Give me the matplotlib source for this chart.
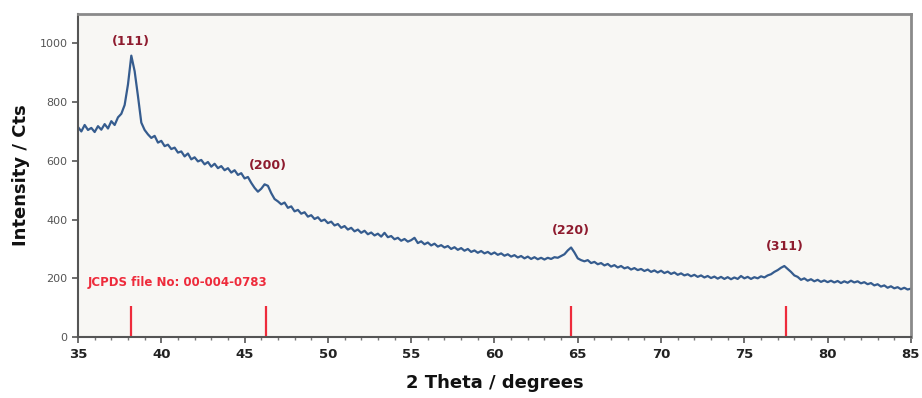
import numpy as np
import matplotlib
matplotlib.use("Agg")
import matplotlib.pyplot as plt
from matplotlib.ticker import MultipleLocator

# ---- data ----
two_theta_start, two_theta_step = 35.0, 0.2
intensity = [
    715, 700, 722, 705, 712, 698, 718, 706, 725, 710, 735, 722, 748, 760, 790, 860, 958, 905, 820, 730, 705, 690, 678, 685, 662,
    668, 650, 655, 640, 645, 628, 632, 615, 625, 605, 612, 598, 603, 588, 596, 580, 590, 575, 582, 568, 575, 560, 568, 552, 558,
    540, 545, 525, 508, 495, 505, 520, 515, 490, 470, 462, 452, 458, 440, 445, 428, 433, 420, 425, 410, 415, 402, 408, 395, 400,
    388, 393, 380, 385, 372, 378, 366, 372, 360, 366, 355, 362, 350, 356, 346, 352, 342, 355, 340, 344, 333, 338, 328, 334, 325,
    330, 338, 320, 326, 316, 322, 312, 318, 308, 313, 305, 310, 300, 306, 297, 303, 294, 300, 290, 295, 287, 293, 285, 290, 282,
    288, 280, 285, 277, 282, 274, 279, 271, 276, 268, 274, 266, 272, 265, 270, 264, 270, 266, 272, 270, 276, 282, 295, 305, 288,
    268, 262, 258, 262, 252, 256, 248, 252, 244, 249, 240, 245, 237, 242, 234, 238, 230, 235, 228, 232, 225, 230, 222, 227, 220,
    226, 218, 223, 215, 220, 212, 217, 210, 214, 207, 212, 205, 210, 203, 208, 201, 206, 199, 205, 198, 204, 197, 203, 198, 208,
    200, 205, 198, 204, 200, 207, 203, 210, 214, 222, 228, 236, 242, 232, 222, 210, 205, 195, 200, 192, 197, 190, 195, 188, 193,
    187, 192, 186, 191, 184, 190, 185, 192, 186, 190, 183, 187, 180, 184, 176, 180, 172, 176, 168, 173, 166, 170, 163, 168, 162, 165,
]
two_theta = two_theta_start + two_theta_step * np.arange(len(intensity))

ref_positions = [38.2, 46.3, 64.6, 77.5]
ref_height = 105
peak_labels = ["(111)", "(200)", "(220)", "(311)"]
peak_label_x = [38.2, 46.4, 64.6, 77.4]
peak_label_y = [1005, 585, 362, 308]
jcpds_text = "JCPDS file No: 00-004-0783"

# ---- figure ----
fig = plt.figure(figsize=(9.22, 3.98), dpi=100)
ax = fig.add_axes([0.0846, 0.153, 0.9034, 0.812])
ax.set_facecolor("#F8F7F4")

ax.plot(two_theta, intensity, color="#2B5489", lw=1.6, alpha=0.95)

ax.vlines(ref_positions, 0, ref_height, color="#EE2B3B", lw=1.6)

for lab, lx, ly in zip(peak_labels, peak_label_x, peak_label_y):
    ax.text(lx, ly, lab, color="#8E1B2E", fontsize=9, fontweight="bold",
            ha="center", va="center")

ax.text(35.6, 185, jcpds_text, color="#EE2B3B", fontsize=8.5,
        fontweight="bold", ha="left", va="center")

ax.set_xlim(35, 85)
ax.set_ylim(0, 1100)
ax.xaxis.set_major_locator(MultipleLocator(5))
ax.xaxis.set_minor_locator(MultipleLocator(1))
ax.set_yticks([0, 200, 400, 600, 800, 1000])

for lbl in ax.get_xticklabels():
    lbl.set_fontweight("bold")
ax.tick_params(axis="x", which="major", labelsize=9.5, labelcolor="#222222",
               length=4, width=1.2, color="#555555", direction="out")
ax.tick_params(axis="x", which="minor", length=2.5, width=1.0, color="#777777")
ax.tick_params(axis="y", which="major", labelsize=8, labelcolor="#555555",
               length=4, width=1.2, color="#555555")

ax.spines["left"].set_color("#555555")
ax.spines["bottom"].set_color("#555555")
ax.spines["left"].set_linewidth(1.5)
ax.spines["bottom"].set_linewidth(1.5)
ax.spines["top"].set_color("#8A8A8A")
ax.spines["right"].set_color("#8A8A8A")
ax.spines["top"].set_linewidth(2)
ax.spines["right"].set_linewidth(2)

ax.set_xlabel("2 Theta / degrees", fontsize=13, fontweight="bold", color="#111111", labelpad=10)
ax.set_ylabel("Intensity / Cts", fontsize=13, fontweight="bold", color="#111111", labelpad=7)

fig.savefig("out.png", dpi=100, facecolor="white")
